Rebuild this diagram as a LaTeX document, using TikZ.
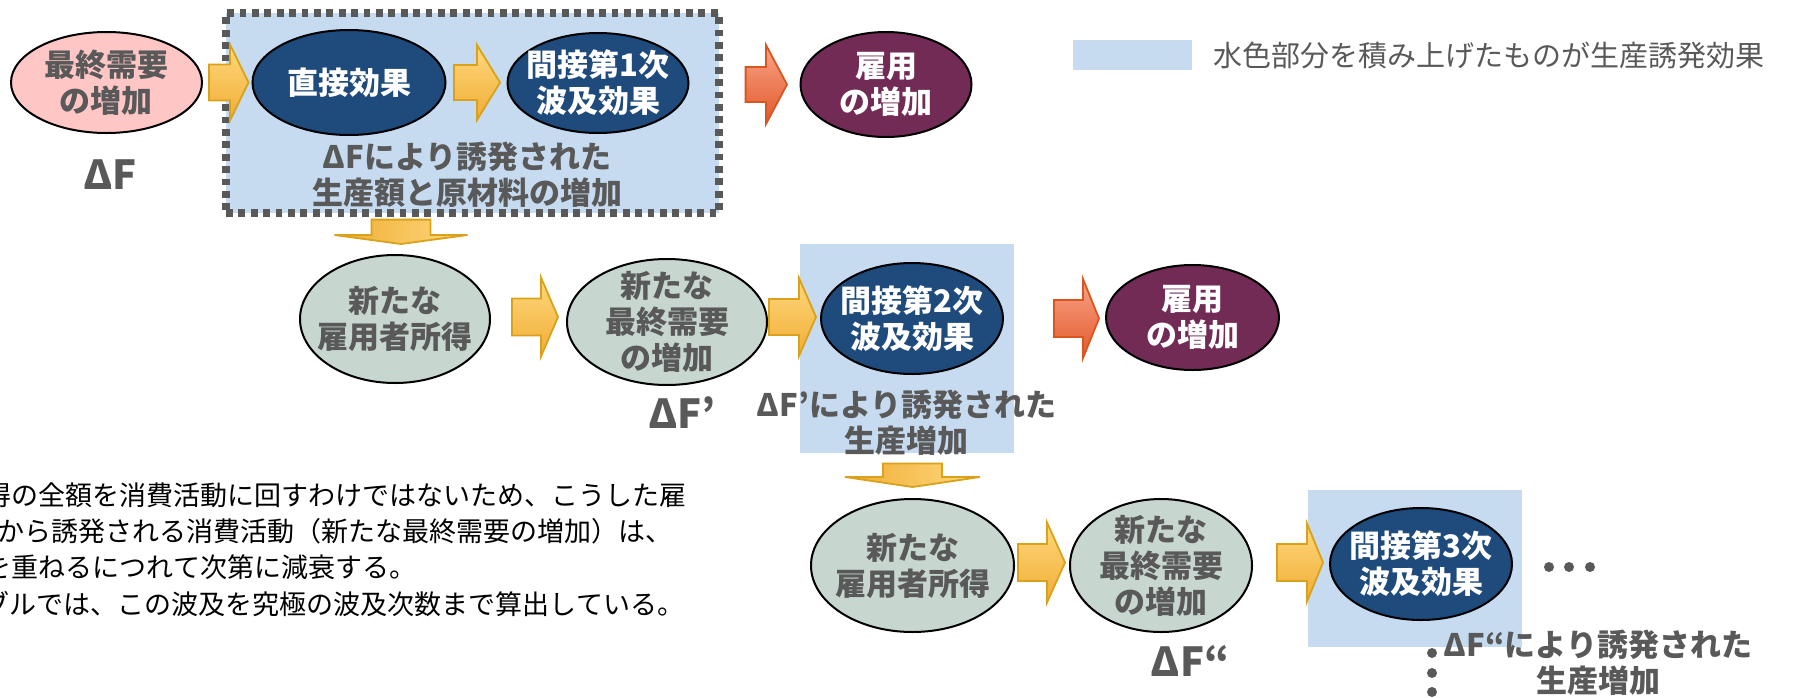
\documentclass[tikz,border=0pt]{standalone}
\usepackage{fontspec}
\setmainfont{Noto Sans CJK JP}
\newfontfamily\jp{Noto Sans CJK JP}
\usetikzlibrary{shapes.geometric,calc}

\definecolor{lblue}{HTML}{C6DBF0}
\definecolor{tgray}{HTML}{595959}
\definecolor{pinkc}{HTML}{FFC6C6}
\definecolor{dblue}{HTML}{1F4A7C}
\definecolor{purp}{HTML}{722B55}
\definecolor{ggreen}{HTML}{C7D7CF}
\definecolor{otop}{HTML}{FFD87E}
\definecolor{obot}{HTML}{F0AD35}
\definecolor{ogold}{HTML}{D9A21A}
\definecolor{rtop}{HTML}{F9A488}
\definecolor{rbot}{HTML}{E2582B}
\definecolor{rline}{HTML}{D8561F}

% horizontal block arrow: style, from, to, shaft half, head half, head length
\newcommand\harr[6]{\path[#1] let \p1=(#2), \p2=(#3) in
  (\x1,\y1+#4) -- (\x2-#6,\y1+#4) -- (\x2-#6,\y1+#5) -- (\x2,\y1) --
  (\x2-#6,\y1-#5) -- (\x2-#6,\y1-#4) -- (\x1,\y1-#4) -- cycle;}
% vertical (downward) block arrow
\newcommand\varr[6]{\path[#1] let \p1=(#2), \p2=(#3) in
  (\x1-#4,\y1) -- (\x1-#4,\y2+#6) -- (\x1-#5,\y2+#6) -- (\x1,\y2) --
  (\x1+#5,\y2+#6) -- (\x1+#4,\y2+#6) -- (\x1+#4,\y1) -- cycle;}

\begin{document}
\begin{tikzpicture}[x=0.5pt,y=-0.5pt,
  ell/.style={ellipse, draw=black, line width=1pt, inner sep=0pt, outer sep=0pt},
  gtxt/.style={text=tgray, font=\jp\bfseries\fontsize{15.5}{18}\selectfont, align=center, inner sep=0pt},
  wtxt/.style={gtxt, text=white},
  bigtxt/.style={text=tgray, font=\jp\bfseries\fontsize{20}{22}\selectfont, inner sep=0pt},
  ptxt/.style={anchor=west, inner sep=0pt, text=black, font=\jp\fontsize{13.5}{16}\selectfont},
  oarr/.style={draw=ogold, line width=0.9pt, top color=otop, bottom color=obot},
  darr/.style={draw=ogold, line width=0.9pt, left color=obot, right color=otop},
  rarr/.style={draw=rline, line width=0.9pt, top color=rtop, bottom color=rbot},
  dotn/.style={circle, fill=tgray, inner sep=0pt, minimum size=5pt}]
\useasboundingbox (0,0) rectangle (1795,697);
\clip (0,0) rectangle (1795,697);

% ---------- row 1 ----------
\node[draw=tgray, fill=lblue, line width=3.6pt, dash pattern=on 3.4pt off 2.8pt,
      minimum width=246.5pt, minimum height=100pt, inner sep=0pt] (box) at (472.5,113) {};
\node[ell, fill=pinkc, minimum width=95.5pt, minimum height=50.5pt,
      label={[gtxt]center:{最終需要\\の増加}}] (fd) at (106.5,82.5) {};
\node[bigtxt] (df1) at (110,175) {ΔF};
\node[ell, fill=dblue, minimum width=96.5pt, minimum height=52.5pt,
      label={[wtxt]center:{直接効果}}] (de) at (349,82.5) {};
\node[ell, fill=dblue, minimum width=90.5pt, minimum height=50pt,
      label={[wtxt]center:{間接第1次\\波及効果}}] (ie1) at (598,83) {};
\node[ell, fill=purp, minimum width=85.5pt, minimum height=52.5pt,
      label={[wtxt]center:{雇用\\の増加}}] (pu1) at (886,84.5) {};
\node[gtxt] (boxtxt) at (467,174.5) {ΔFにより誘発された\\生産額と原材料の増加};

\harr{oarr}{$(fd.east)+(7,0)$}{$(de.west)+(-4,0)$}{9pt}{19pt}{9.25pt}
\harr{oarr}{$(de.east)+(8.5,0)$}{$(ie1.west)+(-7.5,0)$}{8.75pt}{18.75pt}{11.5pt}
\harr{rarr}{$(pu1.west -| box.east)+(23,0)$}{$(pu1.west)+(-13.5,0)$}{8.75pt}{19.75pt}{10.5pt}

% legend
\node[fill=lblue, minimum width=59.5pt, minimum height=15pt, inner sep=0pt] (legbox) at (1132.5,55) {};
\node[anchor=west, inner sep=0pt, text=tgray, font=\jp\fontsize{14.5}{16}\selectfont] (legtxt) at (1213,55) {水色部分を積み上げたものが生産誘発効果};

% ---------- row 2 ----------
\node[fill=lblue, minimum width=107pt, minimum height=104.5pt, inner sep=0pt] (r2) at (907,348.5) {};
\node[ell, fill=ggreen, minimum width=95pt, minimum height=64pt,
      label={[gtxt]center:{新たな\\雇用者所得}}] (a2) at (395,319) {};
\node[ell, fill=ggreen, minimum width=100pt, minimum height=63pt,
      label={[gtxt]center:{新たな\\最終需要\\の増加}}] (b2) at (667,322) {};
\node[bigtxt] (df2) at (682,413) {ΔF’};
\node[ell, fill=dblue, minimum width=91pt, minimum height=55.5pt,
      label={[wtxt]center:{間接第2次\\波及効果}}] (c2) at (912,318.5) {};
\node[ell, fill=purp, minimum width=86.5pt, minimum height=52.5pt,
      label={[wtxt]center:{雇用\\の増加}}] (d2) at (1192.5,317.5) {};
\node[gtxt] (r2txt) at (906.5,422.5) {ΔF’により誘発された\\生産増加};

\varr{darr}{$(a2.north |- box.south)+(6,3)$}{$(a2.north)+(6,-11)$}{14.75pt}{33.25pt}{4.5pt}
\harr{oarr}{$(a2.east)+(22,-2)$}{$(b2.west)+(-9,0)$}{9.25pt}{19.75pt}{8.5pt}
\harr{oarr}{$(b2.east)+(2,-5)$}{$(c2.west)+(-5,0)$}{9pt}{19.5pt}{8.5pt}
\harr{rarr}{$(c2.east)+(51,0)$}{$(d2.west)+(-7,0)$}{9.25pt}{19.75pt}{8pt}

% ---------- row 3 ----------
\node[fill=lblue, minimum width=107pt, minimum height=78.5pt, inner sep=0pt] (r3) at (1415,568.5) {};
\node[ell, fill=ggreen, minimum width=101.5pt, minimum height=66.5pt,
      label={[gtxt]center:{新たな\\雇用者所得}}] (a3) at (912.5,565.5) {};
\node[ell, fill=ggreen, minimum width=91pt, minimum height=66.5pt,
      label={[gtxt]center:{新たな\\最終需要\\の増加}}] (b3) at (1161,565.5) {};
\node[bigtxt] (df3) at (1190,661) {ΔF“};
\node[ell, fill=dblue, minimum width=91pt, minimum height=56pt,
      label={[wtxt]center:{間接第3次\\波及効果}}] (c3) at (1421,564) {};
\node[gtxt] (r3txt) at (1598,662.5) {ΔF“により誘発された\\生産増加};

\varr{darr}{$(a3.north |- r2.south)+(0,10)$}{$(a3.north)+(0,-12)$}{14.75pt}{33.75pt}{5pt}
\harr{oarr}{$(a3.east)+(4,-3)$}{$(b3.west)+(-5,0)$}{9.25pt}{20pt}{9pt}
\harr{oarr}{$(b3.east)+(25,-3)$}{$(c3.west)+(-7,0)$}{9.25pt}{19.5pt}{8pt}

\node[dotn] (h1) at (1549,567) {};
\node[dotn] (h2) at (1569,567) {};
\node[dotn] (h3) at (1590,567) {};
\node[dotn] (v1) at (1432,653) {};
\node[dotn] (v2) at (1432,673) {};
\node[dotn] (v3) at (1432,692) {};

% ---------- explanatory text (cut at left edge) ----------
\node[ptxt] (p1) at (-15.5,495) {得の全額を消費活動に回すわけではないため、こうした雇};
\node[ptxt] (p2) at (-3,531) {から誘発される消費活動（新たな最終需要の増加）は、};
\node[ptxt] (p3) at (-15.5,567) {を重ねるにつれて次第に減衰する。};
\node[ptxt] (p4) at (-17.5,604) {ブルでは、この波及を究極の波及次数まで算出している。};
\end{tikzpicture}
\end{document}
